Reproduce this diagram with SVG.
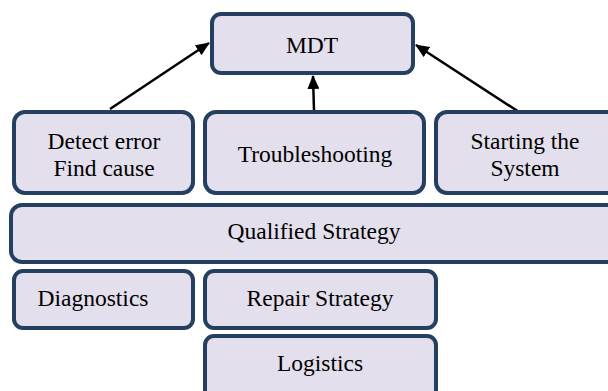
<svg xmlns="http://www.w3.org/2000/svg" width="608" height="391" viewBox="0 0 608 391">
<defs>
<style>
.box{fill:#E4DFEC;stroke:#243F60;stroke-width:4}
.c{stroke:#000;stroke-width:2.5;fill:none}
</style>
<marker id="ah" viewBox="0 0 14 12" refX="13" refY="6" markerWidth="14" markerHeight="12" orient="auto" markerUnits="userSpaceOnUse">
<path d="M0,0 L14,6 L0,12 z" fill="#000"/>
</marker>
</defs>
<rect width="608" height="391" fill="#fff"/>
<g id="connectors">
<line class="c" x1="110" y1="109" x2="209" y2="43" marker-end="url(#ah)"/>
<line class="c" x1="314" y1="111" x2="313" y2="76" marker-end="url(#ah)"/>
<line class="c" x1="519" y1="112" x2="416" y2="45" marker-end="url(#ah)"/>
</g>
<g id="mdt"><rect class="box" x="212" y="14" width="201" height="59" rx="9"/><text style="font-family:'Liberation Serif';font-size:23.5px" text-anchor="middle" x="312" y="53">MDT</text></g>
<g id="detect"><rect class="box" x="14" y="112" width="179" height="81" rx="11"/><text style="font-family:'Liberation Serif';font-size:23.5px" text-anchor="middle" x="104" y="149">Detect error</text><text style="font-family:'Liberation Serif';font-size:23.5px" text-anchor="middle" x="104" y="176">Find cause</text></g>
<g id="troubleshooting"><rect class="box" x="205" y="112" width="219" height="81" rx="11"/><text style="font-family:'Liberation Serif';font-size:23.5px" text-anchor="middle" x="315" y="162">Troubleshooting</text></g>
<g id="starting"><rect class="box" x="436" y="112" width="190" height="81" rx="11"/><text style="font-family:'Liberation Serif';font-size:23.5px" text-anchor="middle" x="525" y="149">Starting the</text><text style="font-family:'Liberation Serif';font-size:23.5px" text-anchor="middle" x="525" y="176">System</text></g>
<g id="qualified"><rect class="box" x="11" y="205" width="615" height="57" rx="11"/><text style="font-family:'Liberation Serif';font-size:23.5px" text-anchor="middle" x="314" y="239">Qualified Strategy</text></g>
<g id="diagnostics"><rect class="box" x="14" y="271" width="179" height="57" rx="9"/><text style="font-family:'Liberation Serif';font-size:23.5px" text-anchor="middle" x="93" y="306">Diagnostics</text></g>
<g id="repair"><rect class="box" x="205" y="271" width="231" height="57" rx="9"/><text style="font-family:'Liberation Serif';font-size:23.5px" text-anchor="middle" x="320" y="306">Repair Strategy</text></g>
<g id="logistics"><rect class="box" x="205" y="336" width="231" height="70" rx="9"/><text style="font-family:'Liberation Serif';font-size:23.5px" text-anchor="middle" x="320" y="371">Logistics</text></g>
</svg>
